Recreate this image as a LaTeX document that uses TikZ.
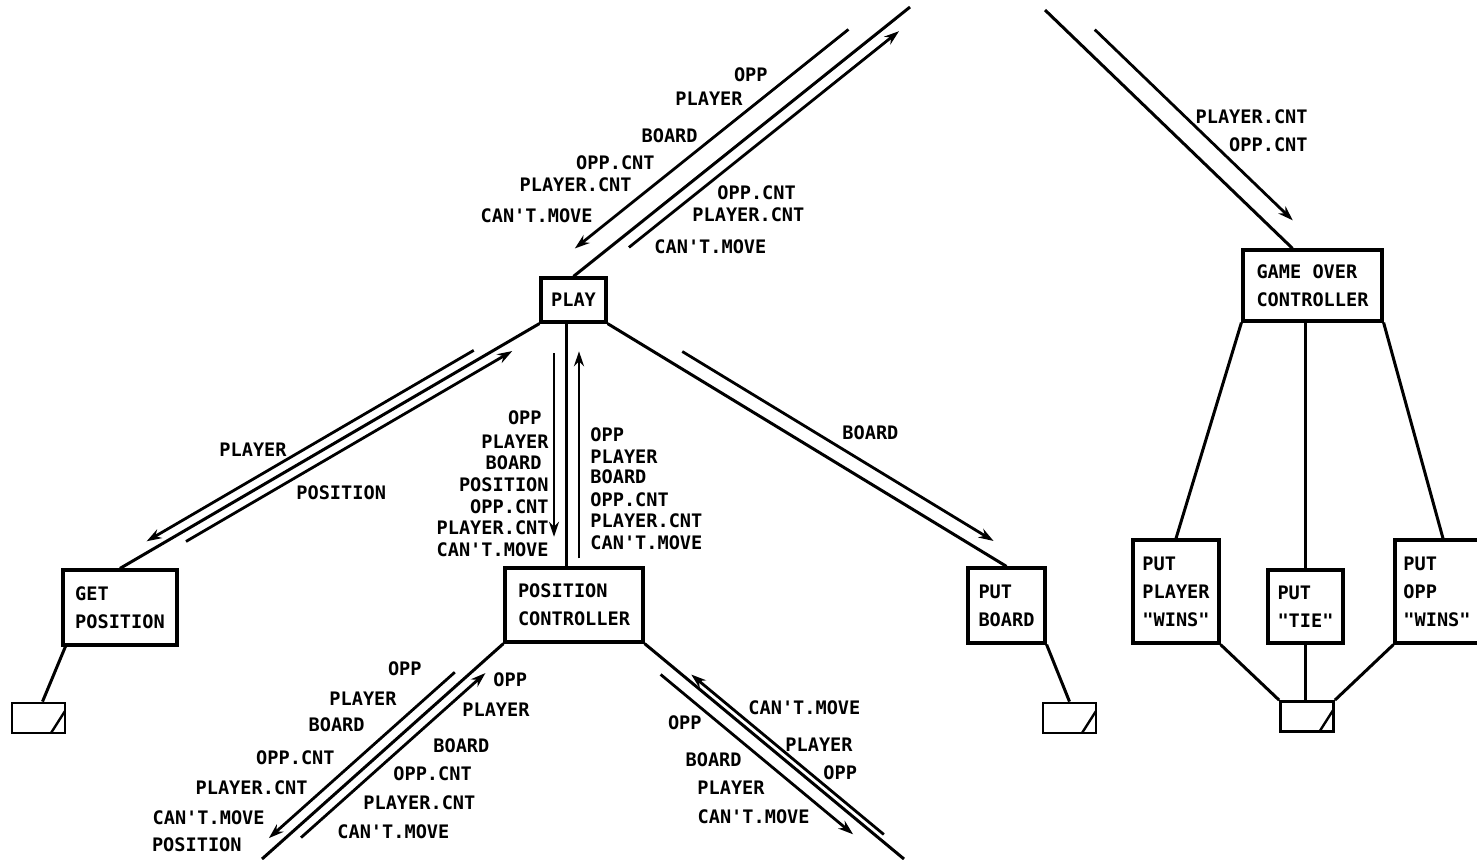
\documentclass[tikz,border=0pt]{standalone}
\usepackage{fontspec}
\usepackage{tikz}
\usetikzlibrary{arrows.meta, calc}
\newfontfamily\plotfam{DejaVu Sans Mono}
\newcommand{\chartfont}{\plotfam\bfseries\fontsize{9.3}{14}\selectfont}
% data flow arrow beside a connector: from, to, start fraction, end fraction, side offset
\newcommand{\dataflow}[5]{\draw[flow] ($(#1)!#3!(#2)!#5!90:(#2)$) -- ($(#1)!#4!(#2)!#5!90:(#2)$);}

\begin{document}
\begin{tikzpicture}[x=0.5pt, y=-0.5pt,
    box/.style  = {draw, line width=1.6pt, align=left, inner sep=0pt, font=\chartfont},
    term/.style = {draw, line width=1.4pt, minimum width=26.5pt, minimum height=15pt, inner sep=0pt,
                   path picture={\draw[line width=1.2pt] ([xshift=-7pt]path picture bounding box.south east)
                                 -- ([yshift=-4pt]path picture bounding box.north east);}},
    link/.style = {line width=1.5pt},
    flow/.style = {-{Stealth[length=7.5pt, width=5pt]}, line width=1.4pt},
    tagl/.style = {font=\chartfont, inner sep=0pt, anchor=east},
    tagr/.style = {font=\chartfont, inner sep=0pt, anchor=west}
  ]
  \useasboundingbox (0,0) rectangle (1477,859);

  % modules (not to scale)
  \node[box, align=center, minimum width=32.5pt, minimum height=22pt] (play) at (573.5,300) {PLAY};
  \node[box, minimum width=57pt, minimum height=37.5pt] (getpos) at (120,607.5) {GET\\POSITION};
  \node[box, minimum width=69pt, minimum height=37pt] (posctrl) at (574,605) {POSITION\\CONTROLLER};
  \node[box, minimum width=38.5pt, minimum height=37.5pt] (putboard) at (1006.5,605.5) {PUT\\BOARD};
  \node[box, minimum width=69.5pt, minimum height=35.5pt] (gameover) at (1312.5,285.5) {GAME OVER\\CONTROLLER};
  \node[box, minimum width=43pt, minimum height=51.5pt] (putpw) at (1176,591.5) {PUT\\PLAYER\\"WINS"};
  \node[box, minimum width=37.5pt, minimum height=36.5pt] (puttie) at (1305.5,606.5) {PUT\\"TIE"};
  \node[box, minimum width=42pt, minimum height=51.5pt] (putow) at (1437,591.5) {PUT\\OPP\\"WINS"};

  % terminals
  \node[term] (term1) at (38.5,718) {};
  \node[term] (term2) at (1069.5,718) {};
  \node[term] (term3) at (1307,716.5) {};

  % loose ends at the page edge
  \coordinate (top1) at (910,7);
  \coordinate (top2) at (1045,10);
  \coordinate (bot1) at (262,859);
  \coordinate (bot2) at (904,859);
  \coordinate (goin) at ([xshift=-10pt]gameover.north);
  \coordinate (vtop) at ([xshift=-3.5pt]play.south);
  \coordinate (vbot) at (vtop |- posctrl.north);

  % structure lines
  \draw[link] (play.north) -- (top1);
  \draw[link] (top2) -- (goin);
  \draw[link] (play.south west) -- (getpos.north);
  \draw[link] (vtop) -- (vbot);
  \draw[link] (play.south east) -- (putboard.north);
  \draw[link] (posctrl.south west) -- (bot1);
  \draw[link] (posctrl.south east) -- (bot2);
  \draw[link] ([xshift=2pt]getpos.south west) -- ([xshift=2pt]term1.north);
  \draw[link] (putboard.south east) -- (term2.north);
  \draw[link] (gameover.south west) -- (putpw.north);
  \draw[link] (puttie.north |- gameover.south) -- (puttie.north);
  \draw[link] (gameover.south east) -- ([xshift=3pt]putow.north);
  \draw[link] (putpw.south east) -- (term3.north west);
  \draw[link] (puttie.south) -- (puttie.south |- term3.north);
  \draw[link] (putow.south west) -- (term3.north east);

  % data flows
  \dataflow{play.north}{top1}{0.856}{0.043}{10.5pt}
  \dataflow{play.north}{top1}{0.1425}{0.945}{-6pt}
  \dataflow{top2}{goin}{0.144}{0.944}{10.2pt}
  \dataflow{play.south west}{getpos.north}{0.1445}{0.9245}{-5pt}
  \dataflow{play.south west}{getpos.north}{0.8547}{0.0767}{5pt}
  \dataflow{vtop}{vbot}{0.122}{0.878}{-6.25pt}
  \dataflow{vtop}{vbot}{0.967}{0.114}{6.25pt}
  \dataflow{play.south east}{putboard.north}{0.1676}{0.948}{7.5pt}
  \dataflow{posctrl.south west}{bot1}{0.171}{0.941}{-5.5pt}
  \dataflow{posctrl.south west}{bot1}{0.866}{0.102}{5pt}
  \dataflow{posctrl.south east}{bot2}{0.095}{0.837}{-6.75pt}
  \dataflow{posctrl.south east}{bot2}{0.9075}{0.165}{3pt}

  % flow labels: top
  \node[tagl] (tl1) at (768,75)  {OPP};
  \node[tagl] (tl2) at (743,99)  {PLAYER};
  \node[tagl] (tl3) at (698,136) {BOARD};
  \node[tagl] (tl4) at (655,163) {OPP.CNT};
  \node[tagl] (tl5) at (632,185) {PLAYER.CNT};
  \node[tagl] (tl6) at (593,216) {CAN'T.MOVE};
  \node[tagr] (tr1) at (717,193) {OPP.CNT};
  \node[tagr] (tr2) at (692,215) {PLAYER.CNT};
  \node[tagr] (tr3) at (654,247) {CAN'T.MOVE};
  \node[tagl] (go1) at (1308,117) {PLAYER.CNT};
  \node[tagl] (go2) at (1308,145) {OPP.CNT};

  % flow labels: below PLAY
  \node[tagl] (gp1) at (287,450) {PLAYER};
  \node[tagr] (gp2) at (296,493) {POSITION};
  \node[tagl] (vl1) at (542,418) {OPP};
  \node[tagl] (vl2) at (549,442) {PLAYER};
  \node[tagl] (vl3) at (542,463) {BOARD};
  \node[tagl] (vl4) at (549,485) {POSITION};
  \node[tagl] (vl5) at (549,507) {OPP.CNT};
  \node[tagl] (vl6) at (549,528) {PLAYER.CNT};
  \node[tagl] (vl7) at (549,550) {CAN'T.MOVE};
  \node[tagr] (vr1) at (590,435) {OPP};
  \node[tagr] (vr2) at (590,457) {PLAYER};
  \node[tagr] (vr3) at (590,477) {BOARD};
  \node[tagr] (vr4) at (590,500) {OPP.CNT};
  \node[tagr] (vr5) at (590,521) {PLAYER.CNT};
  \node[tagr] (vr6) at (590,543) {CAN'T.MOVE};
  \node[tagr] (pb1) at (842,433) {BOARD};

  % flow labels: below POSITION CONTROLLER
  \node[tagl] (bl1) at (422,669) {OPP};
  \node[tagl] (bl2) at (397,699) {PLAYER};
  \node[tagl] (bl3) at (365,725) {BOARD};
  \node[tagl] (bl4) at (335,758) {OPP.CNT};
  \node[tagl] (bl5) at (308,788) {PLAYER.CNT};
  \node[tagl] (bl6) at (265,818) {CAN'T.MOVE};
  \node[tagl] (bl7) at (242,845) {POSITION};
  \node[tagr] (br1) at (493,680) {OPP};
  \node[tagr] (br2) at (462,710) {PLAYER};
  \node[tagr] (br3) at (433,746) {BOARD};
  \node[tagr] (br4) at (393,774) {OPP.CNT};
  \node[tagr] (br5) at (363,803) {PLAYER.CNT};
  \node[tagr] (br6) at (337,832) {CAN'T.MOVE};
  \node[tagl] (cl1) at (702,723) {OPP};
  \node[tagl] (cl2) at (742,760) {BOARD};
  \node[tagl] (cl3) at (765,788) {PLAYER};
  \node[tagl] (cl4) at (810,817) {CAN'T.MOVE};
  \node[tagr] (cr1) at (748,708) {CAN'T.MOVE};
  \node[tagr] (cr2) at (785,745) {PLAYER};
  \node[tagr] (cr3) at (823,773) {OPP};
\end{tikzpicture}
\end{document}
